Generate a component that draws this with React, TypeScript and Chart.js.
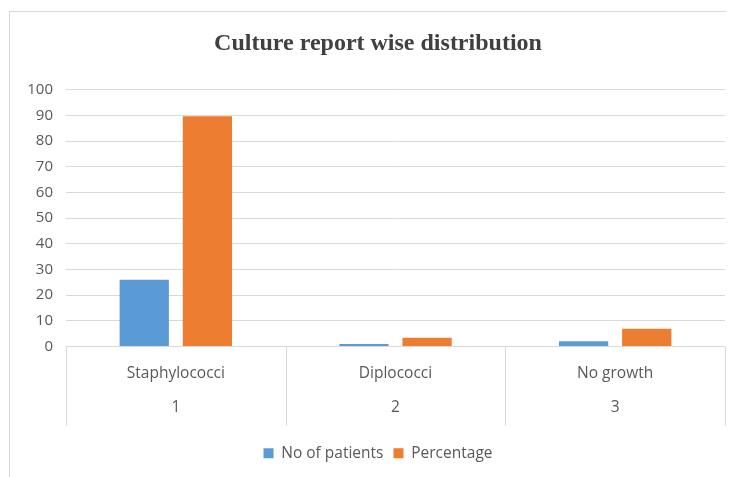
import React, { useEffect, useRef } from "react";
import { Chart, registerables } from "chart.js";

Chart.register(...registerables);

const categories = ["Staphylococci", "Diplococci", "No growth"];
const categoryNumbers = ["1", "2", "3"];
const patients = [26, 1, 2];
const percentage = [89.66, 3.45, 6.9];
const yTicks = { min: 0, max: 100, step: 10 };

const FONT = "'Open Sans'";

const separatorPlugin = {
  id: "separators",
  afterDraw(chart: any) {
    const { ctx, chartArea } = chart;
    const n = categories.length;
    ctx.save();
    ctx.strokeStyle = "#d9d9d9";
    ctx.lineWidth = 1;
    for (let i = 0; i <= n; i++) {
      const x = Math.round(chartArea.left + ((chartArea.right - chartArea.left) * i) / n) + 0.5;
      ctx.beginPath();
      ctx.moveTo(x, chartArea.bottom);
      ctx.lineTo(x, chartArea.bottom + 79);
      ctx.stroke();
    }
    ctx.restore();
  },
};

export default function App() {
  const ref = useRef<HTMLCanvasElement | null>(null);
  useEffect(() => {
    if (!ref.current) return;
    const chart = new Chart(ref.current, {
      type: "bar",
      data: {
        labels: categories.map((c, i) => [c, "", categoryNumbers[i]]),
        datasets: [
          {
            label: "No of patients",
            data: patients,
            backgroundColor: "#5B9BD5",
            categoryPercentage: 0.575,
            barPercentage: 0.78,
          },
          {
            label: "Percentage",
            data: percentage,
            backgroundColor: "#ED7D31",
            categoryPercentage: 0.575,
            barPercentage: 0.78,
          },
        ],
      },
      options: {
        animation: false,
        responsive: false,
        layout: { padding: { left: 0, right: 9, top: 0, bottom: 6 } },
        plugins: {
          title: {
            display: true,
            text: "Culture report wise distribution",
            font: { family: "'Liberation Serif'", size: 24, weight: "bold", lineHeight: 1.2 },
            color: "#404040",
            padding: { top: 17, bottom: 32 },
          },
          legend: {
            position: "bottom",
            labels: {
              boxWidth: 10,
              boxHeight: 10,
              color: "#595959",
              font: { family: FONT, size: 15.5 },
              padding: 10,
            },
          },
          tooltip: { enabled: false },
        },
        scales: {
          x: {
            offset: true,
            grid: { display: false, drawTicks: false },
            border: { display: false },
            ticks: {
              color: "#595959",
              font: { family: FONT, size: 15.5, lineHeight: 1.097 },
              padding: 19,
              maxRotation: 0,
            },
            afterFit: (s: any) => {
              s.height = 89;
            },
          },
          y: {
            min: yTicks.min,
            max: yTicks.max,
            ticks: {
              stepSize: yTicks.step,
              color: "#595959",
              font: { family: FONT, size: 15 },
              padding: 13,
            },
            grid: { color: "#d9d9d9", drawTicks: false },
            border: { display: false },
            afterFit: (s: any) => {
              s.width = 56;
            },
          },
          yRight: {
            type: "linear",
            position: "right",
            display: true,
            grid: { display: false, drawTicks: false },
            border: { display: false },
            ticks: { display: false },
            afterFit: (s: any) => {
              s.width = 21;
            },
          },
        },
      },
      plugins: [separatorPlugin],
    });
    return () => chart.destroy();
  }, []);
  return (
    <div
      style={{
        marginTop: 3,
        marginLeft: 1,
        width: 725,
        height: 466,
        overflow: "hidden",
        borderTop: "1px solid #d9d9d9",
        borderLeft: "1px solid #d9d9d9",
        background: "#fff",
      }}
    >
      <canvas ref={ref} width={745} height={465} style={{ display: "block" }} />
    </div>
  );
}
